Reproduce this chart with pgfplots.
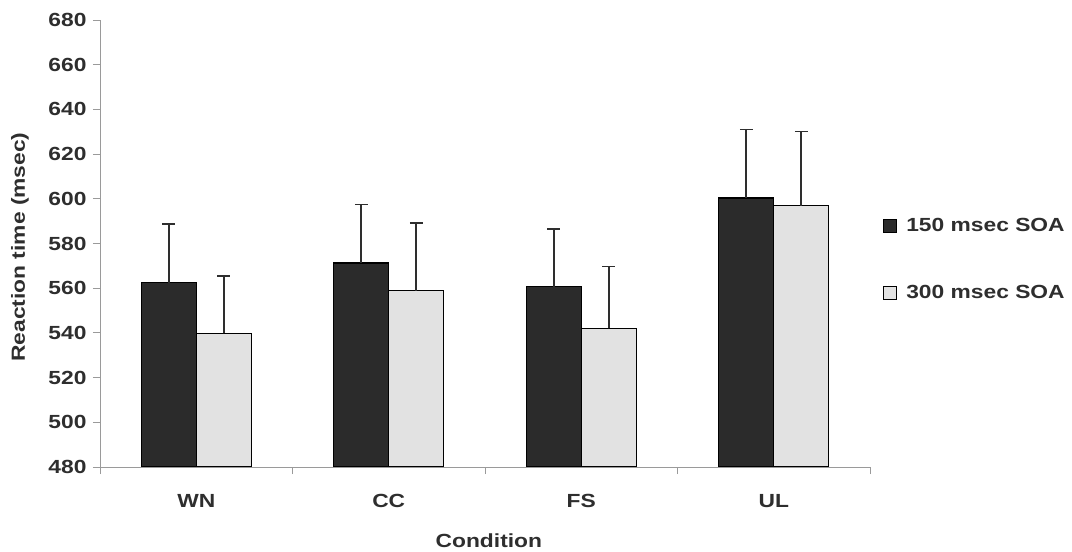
\documentclass[border=0pt]{standalone}
\usepackage{pgfplots}
\pgfplotsset{compat=1.18}
\usepackage{fontspec}
\setmainfont[FakeStretch=1.2]{Liberation Sans}
\definecolor{darkbar}{HTML}{2B2B2B}
\definecolor{lightbar}{HTML}{E2E2E2}
\definecolor{txt}{HTML}{2E2E2E}
\definecolor{axl}{HTML}{9A9A9A}
\begin{document}
\begin{tikzpicture}
\useasboundingbox (0,0) rectangle (1072bp,552bp);
\begin{axis}[
  at={(100bp,85bp)}, anchor=south west,
  scale only axis, width=770bp, height=447bp,
  ybar=0pt, bar width=55bp,
  xmin=-0.5, xmax=3.5, ymin=480, ymax=680,
  ytick={480,500,...,680},
  xtick={0,1,2,3}, xticklabels={WN,CC,FS,UL},
  minor xtick={-0.5,0.5,1.5,2.5,3.5},
  major x tick style={draw=none},
  minor tick length=7bp, major tick length=7bp,
  tick align=outside,
  axis x line*=bottom, axis y line*=left,
  axis line style={draw=axl, line width=0.8pt},
  every tick/.style={draw=axl, line width=0.8pt},
  /pgf/number format/assume math mode=true,
  /pgf/number format/1000 sep={},
  tick label style={font=\fontsize{19bp}{22bp}\selectfont\bfseries, text=txt},
  yticklabel style={xshift=-3bp},
  xticklabel style={yshift=-17bp},
  ylabel={Reaction time (msec)},
  xlabel={Condition},
  label style={font=\fontsize{19bp}{22bp}\selectfont\bfseries, text=txt},
  ylabel style={at={(axis description cs:-0.104,0.492)}, anchor=center},
  xlabel style={at={(axis description cs:0.505,-0.166)}, anchor=center, inner sep=0pt},
  legend style={draw=none, fill=none, at={(axis description cs:1.017,0.465)}, anchor=west,
    font=\fontsize{19bp}{22bp}\selectfont\bfseries, text=txt, row sep=48bp,
    inner sep=0pt, legend cell align=left},
  legend image code/.code={\draw[#1,draw=black,line width=1pt] (0bp,-6.5bp) rectangle (13bp,6.5bp);},
  error bars/error bar style={draw=txt, line width=1.6pt},
  error bars/error mark options={rotate=90, mark size=6.5bp, line width=1.6pt, draw=txt},
]
\addplot[fill=darkbar, draw=black, line width=1.4pt,
  error bars/.cd, y dir=plus, y explicit]
  coordinates {(0,562.5) +- (0,26.3) (1,571.2) +- (0,26.2) (2,560.7) +- (0,25.9) (3,600.4) +- (0,30.6)};
\addplot[fill=lightbar, draw=black, line width=1.4pt,
  error bars/.cd, y dir=plus, y explicit]
  coordinates {(0,539.8) +- (0,25.7) (1,558.9) +- (0,30.2) (2,542.0) +- (0,27.7) (3,597.0) +- (0,33.2)};
\legend{\hspace{7bp}150 msec SOA, \hspace{7bp}300 msec SOA}
\end{axis}
\end{tikzpicture}
\end{document}
